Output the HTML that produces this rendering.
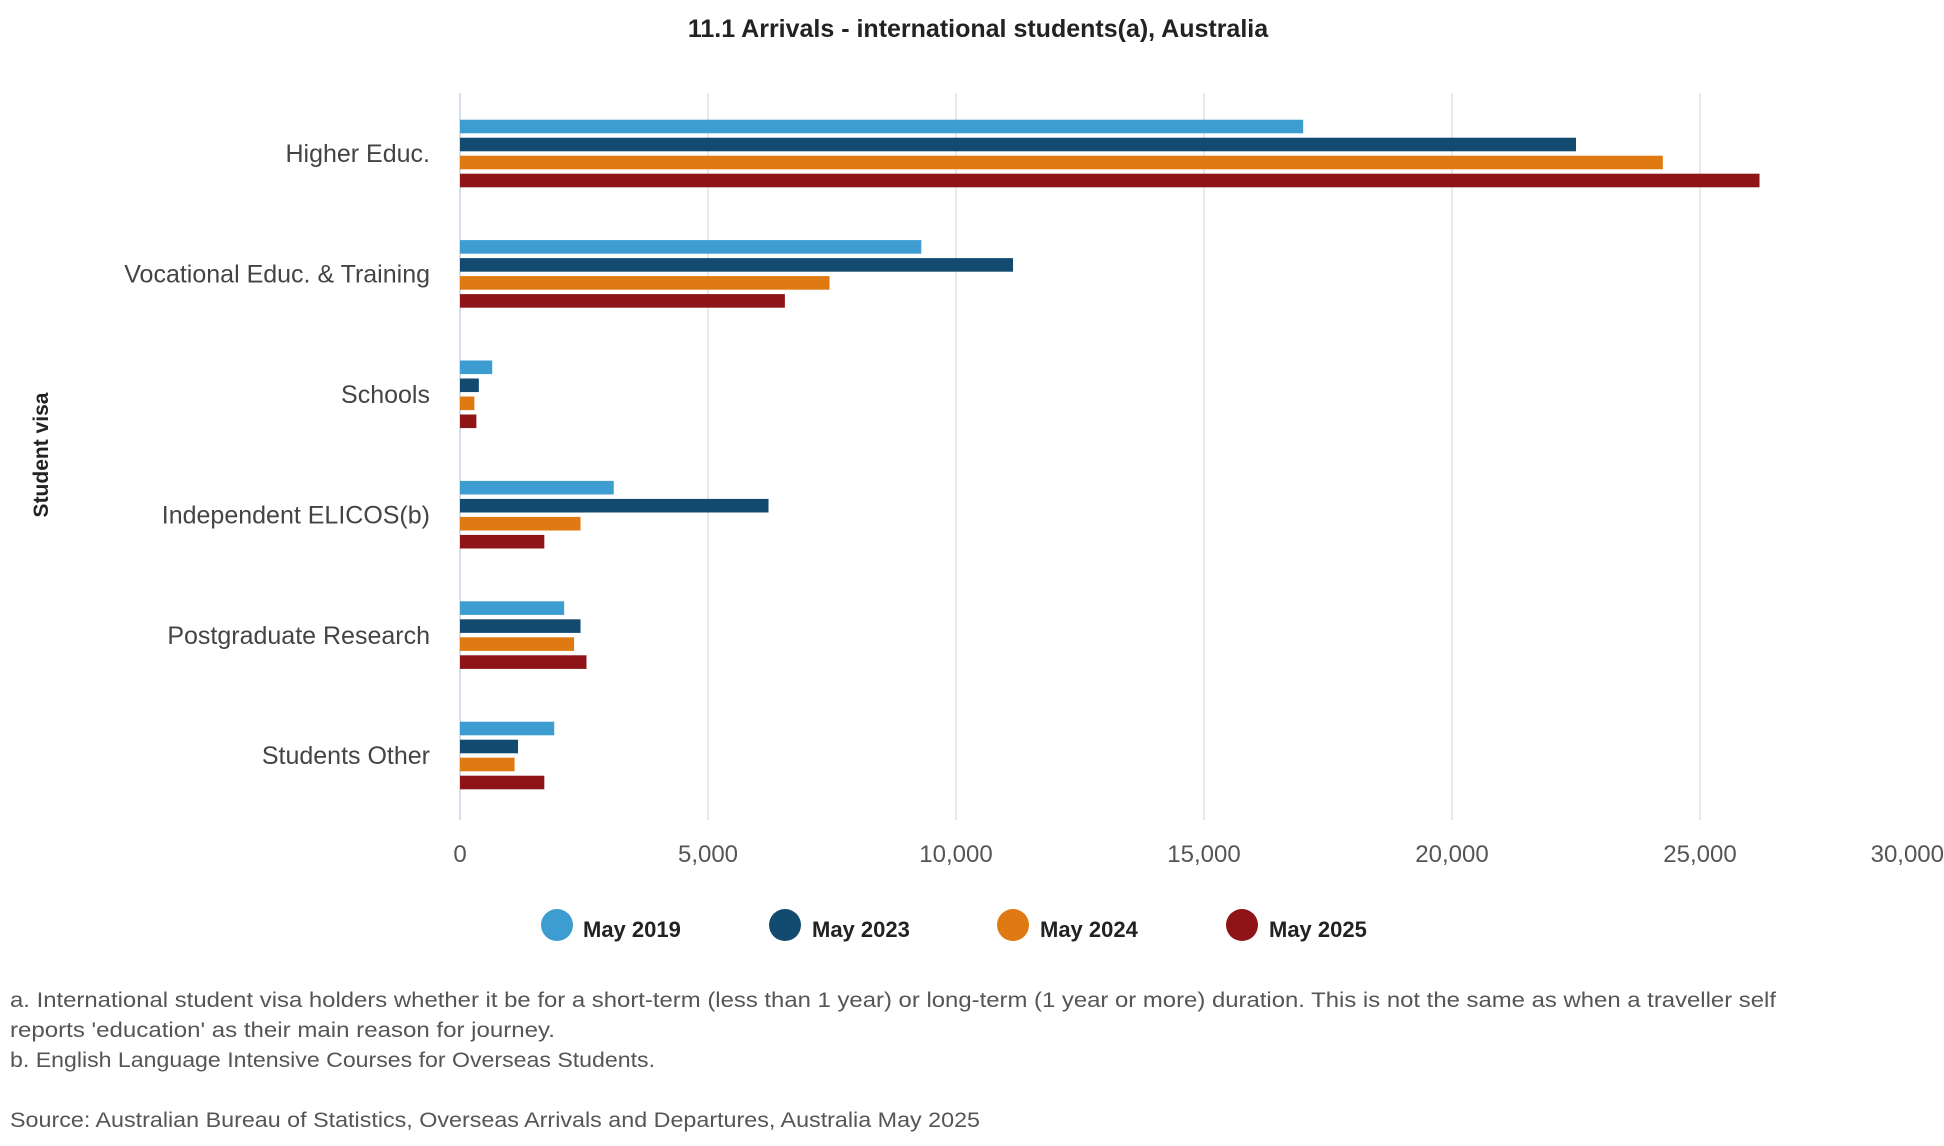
<!DOCTYPE html>
<html><head><meta charset="utf-8"><style>
body{margin:0;background:#fff;}
svg{display:block;font-family:"Liberation Sans",sans-serif;}
</style></head><body>
<svg id="chart" width="1944" height="1146" viewBox="0 0 1944 1146">
<text x="978" y="37" text-anchor="middle" font-size="25" font-weight="bold" fill="#222">11.1 Arrivals - international students(a), Australia</text>
<text transform="translate(48,455) rotate(-90)" text-anchor="middle" font-size="21" font-weight="bold" fill="#222">Student visa</text>
<g id="grid"></g><g id="bars"></g><g id="ylabels"></g><g id="xlabels"></g>
<g>
<circle cx="557" cy="925" r="16" fill="#3d9dd1"/>
<text x="583" y="937" font-size="22" font-weight="bold" fill="#222">May 2019</text>
<circle cx="785" cy="925" r="16" fill="#134a70"/>
<text x="812" y="937" font-size="22" font-weight="bold" fill="#222">May 2023</text>
<circle cx="1013" cy="925" r="16" fill="#df7a12"/>
<text x="1040" y="937" font-size="22" font-weight="bold" fill="#222">May 2024</text>
<circle cx="1242" cy="925" r="16" fill="#8e1418"/>
<text x="1269" y="937" font-size="22" font-weight="bold" fill="#222">May 2025</text>
</g>
<g font-size="21" fill="#555">
<text x="10" y="1007" textLength="1766" lengthAdjust="spacingAndGlyphs">a. International student visa holders whether it be for a short-term (less than 1 year) or long-term (1 year or more) duration. This is not the same as when a traveller self</text>
<text x="10" y="1037" textLength="545" lengthAdjust="spacingAndGlyphs">reports 'education' as their main reason for journey.</text>
<text x="10" y="1067" textLength="645" lengthAdjust="spacingAndGlyphs">b. English Language Intensive Courses for Overseas Students.</text>
<text x="10" y="1127" textLength="970" lengthAdjust="spacingAndGlyphs">Source: Australian Bureau of Statistics, Overseas Arrivals and Departures, Australia May 2025</text>
</g>
</svg>
<script>
const categories = ["Higher Educ.","Vocational Educ. & Training","Schools","Independent ELICOS(b)","Postgraduate Research","Students Other"];
const may2019 = [17000, 9300, 650, 3100, 2100, 1900];
const may2023 = [22500, 11150, 380, 6220, 2430, 1170];
const may2024 = [24250, 7450, 290, 2430, 2300, 1100];
const may2025 = [26200, 6550, 330, 1700, 2550, 1700];
const xTicks = [0, 5000, 10000, 15000, 20000, 25000, 30000];
const xTickLabels = ["0","5,000","10,000","15,000","20,000","25,000","30,000"];
const seriesNames = ["may-2019","may-2023","may-2024","may-2025"];

const NS="http://www.w3.org/2000/svg";
const x0=460, xScale=248/5000, top0=93, bandH=120.4;
const X=v=>x0+v*xScale;
const Y=i=>top0+bandH*i+bandH/2;
const colors=["#3d9dd1","#134a70","#df7a12","#8e1418"];
const series=[may2019,may2023,may2024,may2025];
function mk(tag,attrs,parent){const e=document.createElementNS(NS,tag);for(const k in attrs)e.setAttribute(k,attrs[k]);document.getElementById(parent).appendChild(e);return e;}
xTicks.forEach((t,i)=>{
  const l=mk("line",{x1:X(t),x2:X(t),y1:top0,y2:820,stroke:i===0?"#c8d4e4":"#e2e2e2","stroke-width":1.5},"grid");
  
  
  let lx=X(t), anchor="middle";
  if(lx+40>1944){lx=1944;anchor="end";}
  const tx=mk("text",{x:lx,y:862,"text-anchor":anchor,"font-size":24,fill:"#555"},"xlabels");
  tx.textContent=xTickLabels[i];
  
  
});
categories.forEach((c,i)=>{
  const cy=Y(i);
  const tx=mk("text",{x:430,y:cy+9,"text-anchor":"end","font-size":25,fill:"#444"},"ylabels");
  tx.textContent=c;
  
  
  series.forEach((s,j)=>{
    const by=cy-33.5+j*18;
    const r=mk("rect",{x:X(0),y:by,width:X(s[i])-X(0),height:13.6,fill:colors[j]},"bars");
    
    
  });
});
</script>
</body></html>
